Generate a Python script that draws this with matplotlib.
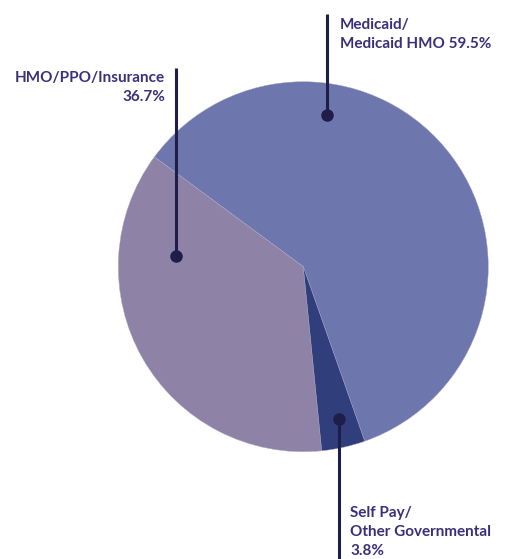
import matplotlib
matplotlib.use('Agg')
import matplotlib.pyplot as plt

# payer mix
categories = ['Medicaid/\nMedicaid HMO', 'HMO/PPO/Insurance', 'Self Pay/\nOther Governmental']
shares = [59.5, 36.7, 3.8]
colours = ['#6d76ad', '#8e83a7', '#313e7c']

label_texts = ['Medicaid/\nMedicaid HMO 59.5%', 'HMO/PPO/Insurance\n36.7%',
               'Self Pay/\nOther Governmental\n3.8%']

W, H = 507, 559
fig = plt.figure(figsize=(W / 100, H / 100), dpi=100)
ax = fig.add_axes([0, 0, 1, 1])
ax.set_xlim(0, W)
ax.set_ylim(0, H)
ax.set_aspect('equal')
ax.axis('off')

# pixel coords from the top-left -> axes coords
def px(x, y):
    return x, H - y

cx, cy = px(303.3, 266.7)
ax.pie(shares, colors=colours, startangle=-70.6, counterclock=True,
       center=(cx, cy), radius=185,
       wedgeprops=dict(edgecolor='#aaa7c6', linewidth=0.3))
ax.set_xlim(0, W)
ax.set_ylim(0, H)

line_col = '#1f1e48'
text_col = '#3b2e7a'
fnt = dict(family=['Lato', 'DejaVu Sans'], weight='bold', size=11, color=text_col)

# leader lines: (x, top, bottom, dot y)
leaders = [(327, 14, 115, 115), (175.5, 68, 256, 256), (338.7, 419, 560, 419)]
for x, y0, y1, yd in leaders:
    ax.plot([px(x, y0)[0], px(x, y1)[0]], [px(x, y0)[1], px(x, y1)[1]],
            color=line_col, lw=2.2, solid_capstyle='butt')
    ax.plot(*px(x, yd), 'o', color=line_col, ms=8)

ax.text(*px(340, 18), label_texts[0], ha='left', va='top', linespacing=1.45, **fnt)
ax.text(*px(165, 71), label_texts[1], ha='right', va='top', linespacing=1.45, **fnt)
ax.text(*px(350, 506), label_texts[2], ha='left', va='top', linespacing=1.45, **fnt)

fig.savefig('out.png', dpi=100)
